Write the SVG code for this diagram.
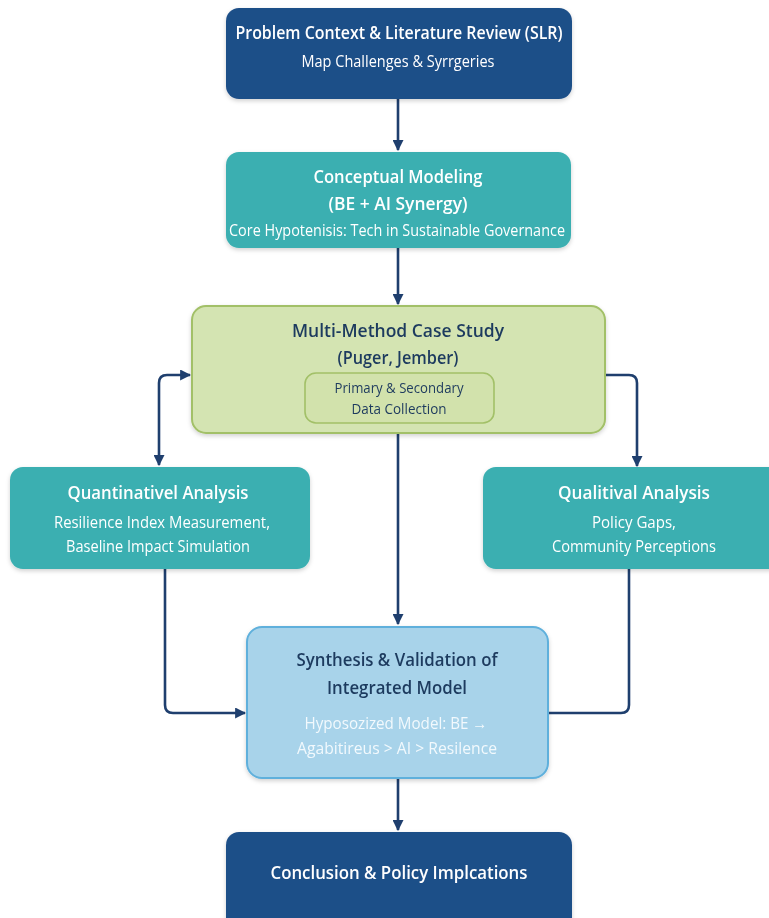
<svg xmlns="http://www.w3.org/2000/svg" width="769" height="918" viewBox="0 0 769 918">
  <style>
    text { font-family: "Open Sans", "Noto Sans", "Liberation Sans", sans-serif; text-anchor: middle; }
    .dark { fill: #1f4f88; }
    .teal { fill: #3aafb1; }
    .green { fill: #d4e4b2; stroke: #a2c067; stroke-width: 2; }
    .inner { fill: #d2e2ac; stroke: #a2c067; stroke-width: 1.6; }
    .blue { fill: #a8d3ea; stroke: #5fb0dc; stroke-width: 2; }
    .t-w { fill: #ffffff; font-weight: 600; font-size: 18.5px; }
    .s-w { fill: #ffffff; font-size: 15.5px; }
    .t-n { fill: #1d3a5e; font-weight: 600; font-size: 18.5px; }
    .s-n { fill: #1d3a5e; font-size: 14px; }
    .s-l { fill: #f2f9fd; font-size: 16px; }
    .conn { fill: none; stroke: #1f3f6e; stroke-width: 2.6; stroke-linejoin: round; }
  </style>
  <defs>
    <marker id="arrow" viewBox="0 0 10 10" refX="9" refY="5" markerWidth="11" markerHeight="11" markerUnits="userSpaceOnUse" orient="auto-start-reverse">
      <path d="M0,0 L10,5 L0,10 z" fill="#1f3f6e"/>
    </marker>
    <filter id="shadow" x="-10%" y="-10%" width="120%" height="130%">
      <feDropShadow dx="0" dy="2" stdDeviation="2" flood-color="#000" flood-opacity="0.18"/>
    </filter>
  </defs>
  <rect width="769" height="918" fill="#ffffff"/>

  <!-- connectors -->
  <g id="connectors">
    <path class="conn" d="M398,99 V150" marker-end="url(#arrow)"/>
    <path class="conn" d="M398,248 V304" marker-end="url(#arrow)"/>
    <path class="conn" d="M159,465 V383 Q159,375 167,375 H190" marker-start="url(#arrow)" marker-end="url(#arrow)"/>
    <path class="conn" d="M605,375 H629 Q637,375 637,383 V466" marker-end="url(#arrow)"/>
    <path class="conn" d="M398,433 V624" marker-end="url(#arrow)"/>
    <path class="conn" d="M165,569 V705 Q165,713 173,713 H245" marker-end="url(#arrow)"/>
    <path class="conn" d="M629,569 V705 Q629,713 621,713 H548"/>
    <path class="conn" d="M398,778 V830" marker-end="url(#arrow)"/>
  </g>

  <g id="problem-context" filter="url(#shadow)">
    <rect class="dark" x="226" y="8" width="346" height="91" rx="13"/>
    <text class="t-w" x="399" y="39" textLength="327" lengthAdjust="spacingAndGlyphs">Problem Context &amp; Literature Review (SLR)</text>
    <text class="s-w" x="398" y="67" textLength="193" lengthAdjust="spacingAndGlyphs">Map Challenges &amp; Syrrgeries</text>
  </g>

  <g id="conceptual-modeling" filter="url(#shadow)">
    <rect class="teal" x="226" y="152" width="345" height="96" rx="13"/>
    <text class="t-w" x="398" y="183" textLength="169" lengthAdjust="spacingAndGlyphs">Conceptual Modeling</text>
    <text class="t-w" x="398" y="210" textLength="139" lengthAdjust="spacingAndGlyphs">(BE + AI Synergy)</text>
    <text class="s-w" x="397" y="236" textLength="336" lengthAdjust="spacingAndGlyphs">Core Hypotenisis: Tech in Sustainable Governance</text>
  </g>

  <g id="case-study" filter="url(#shadow)">
    <rect class="green" x="192" y="306" width="413" height="127" rx="14"/>
    <text class="t-n" x="398" y="337" textLength="212" lengthAdjust="spacingAndGlyphs">Multi-Method Case Study</text>
    <text class="t-n" x="398" y="364" textLength="121" lengthAdjust="spacingAndGlyphs">(Puger, Jember)</text>
    <rect class="inner" x="305" y="373" width="189" height="50" rx="11"/>
    <text class="s-n" x="399" y="393" textLength="129" lengthAdjust="spacingAndGlyphs">Primary &amp; Secondary</text>
    <text class="s-n" x="399" y="414" textLength="95" lengthAdjust="spacingAndGlyphs">Data Collection</text>
  </g>

  <g id="quantitative-analysis" filter="url(#shadow)">
    <rect class="teal" x="10" y="467" width="300" height="102" rx="13"/>
    <text class="t-w" x="158" y="499" textLength="181" lengthAdjust="spacingAndGlyphs">Quantinativel Analysis</text>
    <text class="s-w" x="162" y="528" textLength="216" lengthAdjust="spacingAndGlyphs">Resilience Index Measurement,</text>
    <text class="s-w" x="158" y="552" textLength="184" lengthAdjust="spacingAndGlyphs">Baseline Impact Simulation</text>
  </g>

  <g id="qualitative-analysis" filter="url(#shadow)">
    <rect class="teal" x="483" y="467" width="300" height="102" rx="13"/>
    <text class="t-w" x="634" y="499" textLength="152" lengthAdjust="spacingAndGlyphs">Qualitival Analysis</text>
    <text class="s-w" x="634" y="528" textLength="84" lengthAdjust="spacingAndGlyphs">Policy Gaps,</text>
    <text class="s-w" x="634" y="552" textLength="164" lengthAdjust="spacingAndGlyphs">Community Perceptions</text>
  </g>

  <g id="synthesis" filter="url(#shadow)">
    <rect class="blue" x="247" y="627" width="301" height="151" rx="15"/>
    <text class="t-n" x="397" y="666" textLength="201" lengthAdjust="spacingAndGlyphs">Synthesis &amp; Validation of</text>
    <text class="t-n" x="397" y="694" textLength="140" lengthAdjust="spacingAndGlyphs">Integrated Model</text>
    <text class="s-l" x="396" y="729" textLength="183" lengthAdjust="spacingAndGlyphs">Hyposozized Model: BE →</text>
    <text class="s-l" x="397" y="754" textLength="200" lengthAdjust="spacingAndGlyphs">Agabitireus &gt; AI &gt; Resilence</text>
  </g>

  <g id="conclusion" filter="url(#shadow)">
    <rect class="dark" x="226" y="832" width="346" height="100" rx="13"/>
    <text class="t-w" x="399" y="879" textLength="257" lengthAdjust="spacingAndGlyphs">Conclusion &amp; Policy Implcations</text>
  </g>
</svg>
